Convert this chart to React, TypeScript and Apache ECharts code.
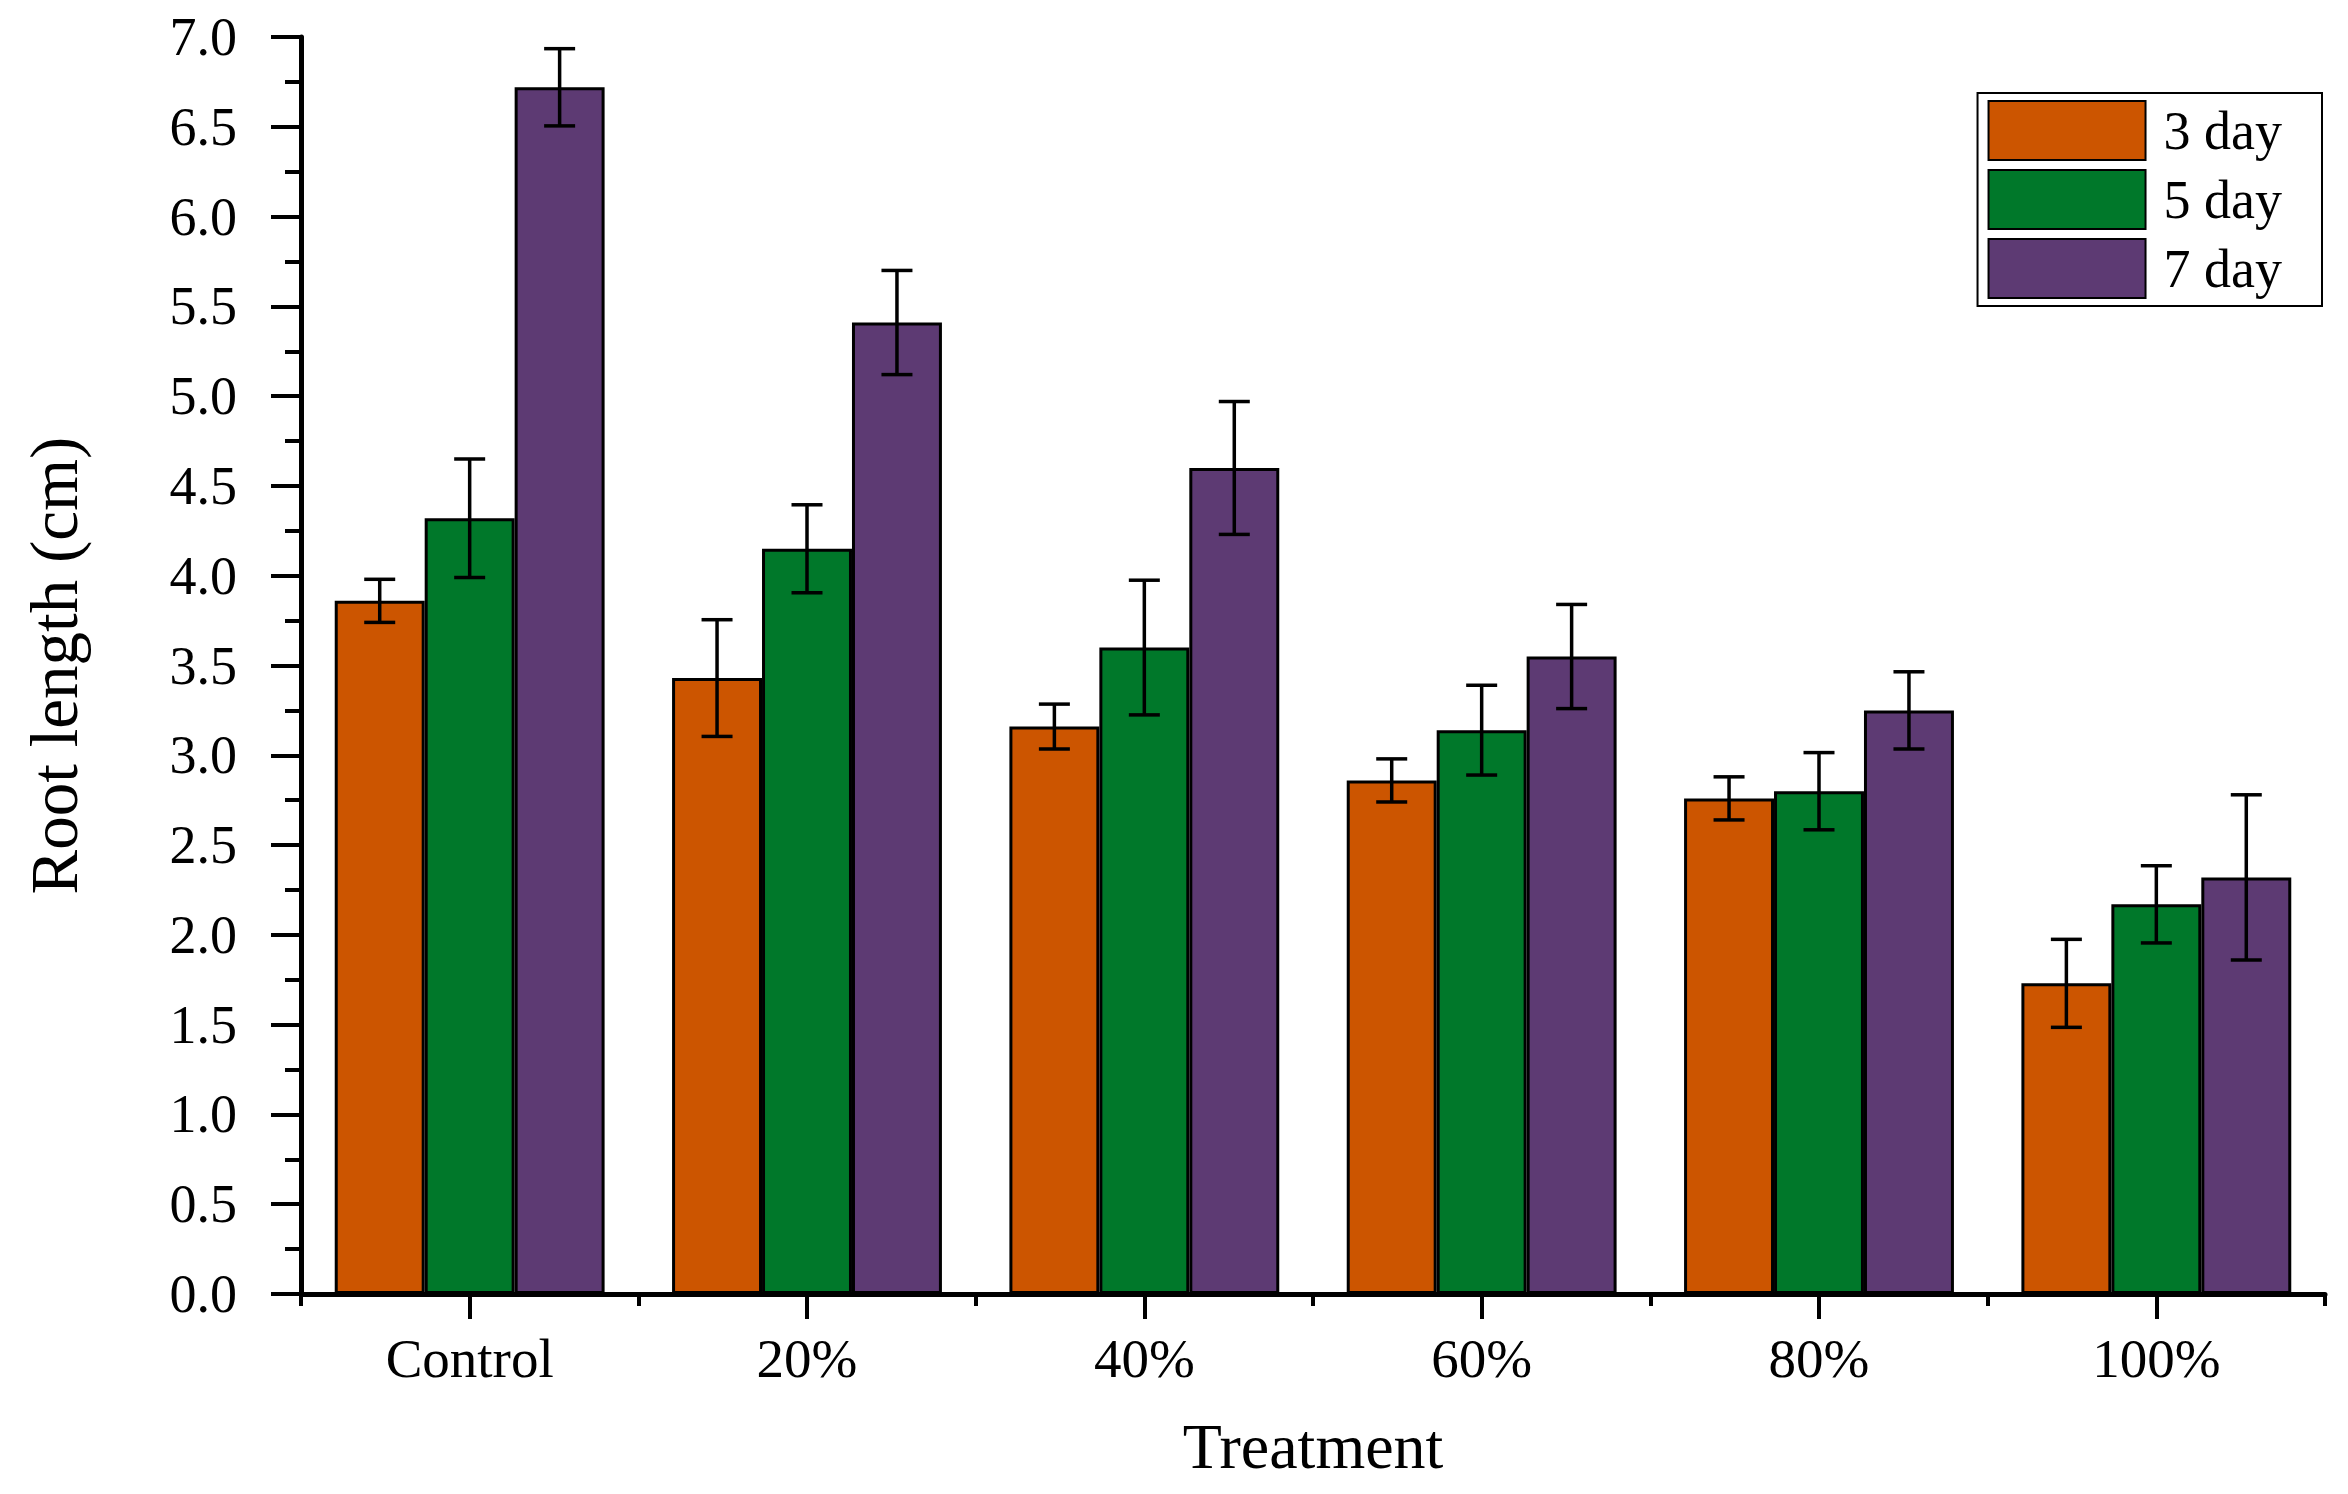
import React, { useEffect, useRef } from "react";
import * as echarts from "echarts";

const categories = ["Control", "20%", "40%", "60%", "80%", "100%"];
const seriesNames = ["3 day", "5 day", "7 day"];
const day3 = [3.86, 3.43, 3.16, 2.86, 2.76, 1.73];
const day3Err = [0.12, 0.325, 0.125, 0.12, 0.12, 0.245];
const day5 = [4.32, 4.15, 3.6, 3.14, 2.8, 2.17];
const day5Err = [0.33, 0.245, 0.375, 0.25, 0.215, 0.215];
const day7 = [6.72, 5.41, 4.6, 3.55, 3.25, 2.32];
const day7Err = [0.215, 0.29, 0.37, 0.29, 0.215, 0.46];
const colors = ["#CC5500", "#00782A", "#5D3A73"];
const yTicks = { min: 0, max: 7, interval: 0.5 };

const FONT = "'Times New Roman', 'Liberation Serif', serif";

export default function App() {
  const ref = useRef<HTMLDivElement>(null);
  useEffect(() => {
    if (!ref.current) return;
    const chart = echarts.init(ref.current, null, { renderer: "svg" });
    const means = [day3, day5, day7];
    const errs = [day3Err, day5Err, day7Err];
    const errData: number[][] = [];
    means.forEach((arr, s) => {
      arr.forEach((m, c) => errData.push([c, s, m, errs[s][c]]));
    });
    const bars = means.map((arr, s) => ({
      name: seriesNames[s],
      type: "bar",
      data: arr,
      barGap: "0%",
      barCategoryGap: "20%",
      itemStyle: { color: colors[s], borderColor: "#000", borderWidth: 3 },
      z: 2,
    }));
    const option: any = {
      animation: false,
      backgroundColor: "#fff",
      textStyle: { fontFamily: FONT, color: "#000" },
      grid: { left: 301, right: 23, top: 37, bottom: 200, containLabel: false },
      legend: {
        data: seriesNames,
        icon: "rect",
        orient: "vertical",
        right: 26,
        top: 93,
        itemWidth: 157,
        itemHeight: 59,
        itemGap: 8,
        padding: [7, 40, 7, 10],
        borderColor: "#000",
        borderWidth: 2,
        backgroundColor: "#fff",
        textStyle: { fontFamily: FONT, fontSize: 54, color: "#000", padding: [0, 0, 0, 13] },
      },
      xAxis: [
        {
          type: "category",
          data: categories,
          position: "bottom",
          axisLine: { show: true, lineStyle: { color: "#000", width: 5 } },
          axisTick: { show: true, alignWithLabel: false, length: 12, lineStyle: { color: "#000", width: 4 } },
          axisLabel: { fontFamily: FONT, fontSize: 55, color: "#000", margin: 37 },
          name: "Treatment",
          nameLocation: "middle",
          nameGap: 120,
          nameTextStyle: { fontFamily: FONT, fontSize: 64, color: "#000" },
        },
        {
          type: "category",
          data: categories,
          position: "bottom",
          offset: 0,
          axisLine: { show: false },
          axisTick: { show: true, alignWithLabel: true, length: 25, lineStyle: { color: "#000", width: 4 } },
          axisLabel: { show: false },
        },
      ],
      yAxis: {
        type: "value",
        min: yTicks.min,
        max: yTicks.max,
        interval: yTicks.interval,
        splitLine: { show: false },
        axisLine: { show: true, lineStyle: { color: "#000", width: 5 } },
        axisTick: { show: true, length: 30, lineStyle: { color: "#000", width: 4 } },
        minorTick: { show: true, splitNumber: 2, length: 16, lineStyle: { color: "#000", width: 4 } },
        axisLabel: {
          fontFamily: FONT,
          fontSize: 54,
          color: "#000",
          margin: 64,
          formatter: (v: number) => v.toFixed(1),
        },
        name: "Root length (cm)",
        nameLocation: "middle",
        nameGap: 214,
        nameTextStyle: { fontFamily: FONT, fontSize: 67, color: "#000" },
      },
      series: [
        ...bars,
        {
          name: "error",
          type: "custom",
          xAxisIndex: 0,
          yAxisIndex: 0,
          z: 5,
          data: errData,
          encode: { x: 0, y: 2 },
          renderItem: (params: any, api: any) => {
            const c = api.value(0);
            const s = api.value(1);
            const m = api.value(2);
            const e = api.value(3);
            const band = api.size([1, 0])[0];
            const bw = (band * 0.8) / 3;
            const cx = api.coord([c, 0])[0] + (s - 1) * bw;
            const yt = api.coord([c, m + e])[1];
            const yb = api.coord([c, m - e])[1];
            const half = 15.5;
            const style = { stroke: "#000", lineWidth: 3.5 };
            return {
              type: "group",
              children: [
                { type: "line", shape: { x1: cx, y1: yt, x2: cx, y2: yb }, style },
                { type: "line", shape: { x1: cx - half, y1: yt, x2: cx + half, y2: yt }, style },
                { type: "line", shape: { x1: cx - half, y1: yb, x2: cx + half, y2: yb }, style },
              ],
            };
          },
        },
      ],
    };
    chart.setOption(option);
    return () => chart.dispose();
  }, []);
  return (
    <div
      ref={ref}
      style={{ position: "fixed", left: 0, top: 0, width: "2348px", height: "1494px", background: "#fff" }}
    />
  );
}
